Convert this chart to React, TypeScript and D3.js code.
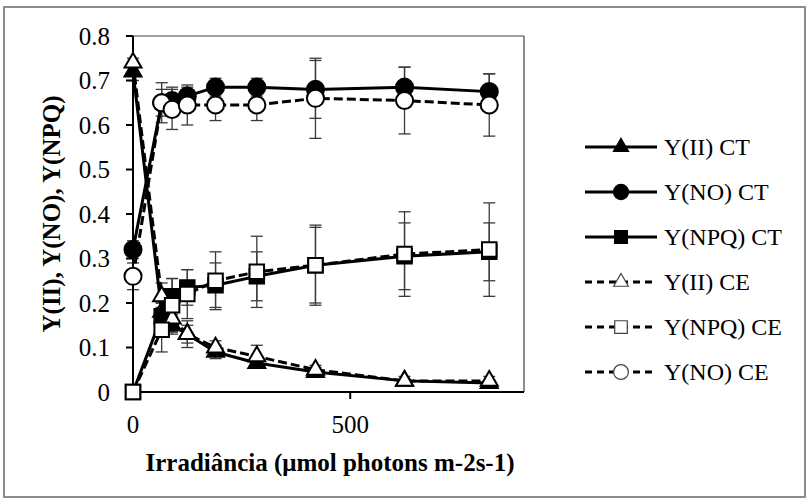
import React from "react";
import * as d3 from "d3";

const irradiance = [0, 66, 90, 125, 190, 285, 420, 625, 820];
const yIICT = [0.72, 0.18, 0.15, 0.13, 0.09, 0.065, 0.045, 0.025, 0.02];
const yNOCT = [0.32, 0.65, 0.655, 0.665, 0.685, 0.685, 0.68, 0.685, 0.675];
const yNPQCT = [0, 0.17, 0.215, 0.235, 0.24, 0.26, 0.285, 0.305, 0.315];
const yIICE = [0.74, 0.215, 0.165, 0.13, 0.1, 0.08, 0.05, 0.025, 0.025];
const yNPQCE = [0, 0.14, 0.195, 0.22, 0.25, 0.27, 0.285, 0.31, 0.32];
const yNOCE = [0.26, 0.65, 0.635, 0.645, 0.645, 0.645, 0.66, 0.655, 0.645];

const errIICT = [0.02, 0.02, 0.02, 0.02, 0.015, 0.01, 0.01, 0.005, 0.005];
const errNOCT = [0.02, 0.03, 0.03, 0.02, 0.02, 0.02, 0.065, 0.045, 0.04];
const errNPQCT = [0, 0.03, 0.04, 0.04, 0.05, 0.055, 0.085, 0.075, 0.065];
const errIICE = [0.01, 0.03, 0.03, 0.03, 0.015, 0.025, 0.01, 0.01, 0.01];
const errNPQCE = [0, 0.05, 0.06, 0.055, 0.065, 0.08, 0.09, 0.095, 0.105];
const errNOCE = [0.03, 0.045, 0.045, 0.045, 0.035, 0.035, 0.09, 0.075, 0.07];

const xTicks = [0, 500];
const yTicks = [0, 0.1, 0.2, 0.3, 0.4, 0.5, 0.6, 0.7, 0.8];
const yTickLabels = ["0", "0.1", "0.2", "0.3", "0.4", "0.5", "0.6", "0.7", "0.8"];

const xTitle = "Irradiância (μmol photons m-2s-1)";
const yTitle = "Y(II), Y(NO), Y(NPQ)";

type Series = {
  name: string;
  values: number[];
  err: number[];
  shape: "triangle" | "circle" | "square";
  filled: boolean;
  dashed: boolean;
};

const series: Series[] = [
  { name: "Y(II) CT", values: yIICT, err: errIICT, shape: "triangle", filled: true, dashed: false },
  { name: "Y(NO) CT", values: yNOCT, err: errNOCT, shape: "circle", filled: true, dashed: false },
  { name: "Y(NPQ) CT", values: yNPQCT, err: errNPQCT, shape: "square", filled: true, dashed: false },
  { name: "Y(II) CE", values: yIICE, err: errIICE, shape: "triangle", filled: false, dashed: true },
  { name: "Y(NPQ) CE", values: yNPQCE, err: errNPQCE, shape: "square", filled: false, dashed: true },
  { name: "Y(NO) CE", values: yNOCE, err: errNOCE, shape: "circle", filled: false, dashed: true },
];

const FONT = "'Liberation Serif', 'Times New Roman', serif";
const txt: React.CSSProperties = { fontFamily: FONT };

const plot = { left: 133, right: 524, top: 36, bottom: 392 };

function symbolFor(shape: string) {
  if (shape === "triangle") return d3.symbolTriangle;
  if (shape === "square") return d3.symbolSquare;
  return d3.symbolCircle;
}

function markerPath(shape: string, scale: number) {
  const sizes: Record<string, number> = { triangle: 125, square: 210, circle: 230 };
  return d3.symbol().type(symbolFor(shape)).size(sizes[shape] * scale)() as string;
}

export default function App() {
  const x = d3.scaleLinear().domain([0, 900]).range([plot.left, plot.right]);
  const y = d3.scaleLinear().domain([0, 0.8]).range([plot.bottom, plot.top]);

  const line = d3
    .line<number>()
    .x((_, i) => x(irradiance[i]))
    .y((d) => y(d));

  const legendX0 = 585;
  const legendX1 = 657;
  const legendY0 = 147;
  const legendStep = 45;

  return (
    <svg
      width={811}
      height={504}
      style={{ position: "absolute", left: 0, top: 0, background: "#fff" }}
    >
      <rect x={0} y={0} width={811} height={504} fill="#fff" />
      <rect x={4} y={7} width={801} height={490} fill="#fff" stroke="#8c8c8c" strokeWidth={2} />

      <line x1={plot.left} x2={plot.right} y1={plot.top} y2={plot.top} stroke="#404040" strokeWidth={1.2} />
      <line x1={plot.right} x2={plot.right} y1={plot.top} y2={plot.bottom} stroke="#404040" strokeWidth={1.2} />

      {series.map((s) =>
        s.values.map((v, i) => {
          const e = s.err[i];
          if (!e) return null;
          const cx = x(irradiance[i]);
          const y1 = y(v + e);
          const y2 = y(v - e);
          return (
            <g key={s.name + "-e-" + i} stroke="#3a3a3a" strokeWidth={1.3}>
              <line x1={cx} x2={cx} y1={y1} y2={y2} />
              <line x1={cx - 6} x2={cx + 6} y1={y1} y2={y1} />
              <line x1={cx - 6} x2={cx + 6} y1={y2} y2={y2} />
            </g>
          );
        })
      )}

      <line x1={plot.left} x2={plot.left} y1={plot.top} y2={plot.bottom} stroke="#000" strokeWidth={2} />
      <line x1={plot.left} x2={plot.right} y1={plot.bottom} y2={plot.bottom} stroke="#000" strokeWidth={2} />
      {yTicks.map((t, i) => (
        <g key={"yt" + i}>
          <line x1={plot.left - 7} x2={plot.left} y1={y(t)} y2={y(t)} stroke="#000" strokeWidth={2} />
          <text x={110} y={y(t)} dy="0.35em" textAnchor="end" fontSize={25} fill="#000" style={txt}>
            {yTickLabels[i]}
          </text>
        </g>
      ))}
      {xTicks.map((t, i) => (
        <g key={"xt" + i}>
          <line x1={x(t)} x2={x(t)} y1={plot.bottom} y2={plot.bottom + 7} stroke="#000" strokeWidth={2} />
          <text x={x(t)} y={433} textAnchor="middle" fontSize={25} fill="#000" style={txt}>
            {String(t)}
          </text>
        </g>
      ))}

      {series.map((s) => (
        <g key={s.name}>
          <path
            d={line(s.values) as string}
            fill="none"
            stroke="#000"
            strokeWidth={3}
            strokeDasharray={s.dashed ? "9,4" : undefined}
            strokeLinejoin="round"
          />
          {s.values.map((v, i) => (
            <path
              key={i}
              d={markerPath(s.shape, 1)}
              transform={`translate(${x(irradiance[i])},${y(v)})`}
              fill={s.filled ? "#000" : "#fff"}
              stroke="#000"
              strokeWidth={2}
            />
          ))}
        </g>
      ))}

      <text x={330} y={471} textAnchor="middle" fontSize={25} fontWeight="bold" fill="#000" style={txt}>
        {xTitle}
      </text>
      <text
        transform={`translate(60,${(plot.top + plot.bottom) / 2}) rotate(-90)`}
        textAnchor="middle"
        fontSize={25}
        fontWeight="bold"
        fill="#000"
        style={txt}
      >
        {yTitle}
      </text>

      {series.map((s, i) => {
        const ly = legendY0 + i * legendStep;
        const mx = (legendX0 + legendX1) / 2;
        return (
          <g key={"lg" + i}>
            <line
              x1={legendX0}
              x2={legendX1}
              y1={ly}
              y2={ly}
              stroke="#000"
              strokeWidth={3}
              strokeDasharray={s.dashed ? "7,5" : undefined}
            />
            <path
              d={markerPath(s.shape, 0.75)}
              transform={`translate(${mx},${ly})`}
              fill={s.filled ? "#000" : "#fff"}
              stroke={s.filled ? "#000" : "#444"}
              strokeWidth={s.filled ? 1.5 : 1.2}
            />
            <text x={664} y={ly} dy="0.35em" fontSize={24} fill="#000" style={txt}>
              {s.name}
            </text>
          </g>
        );
      })}
    </svg>
  );
}
